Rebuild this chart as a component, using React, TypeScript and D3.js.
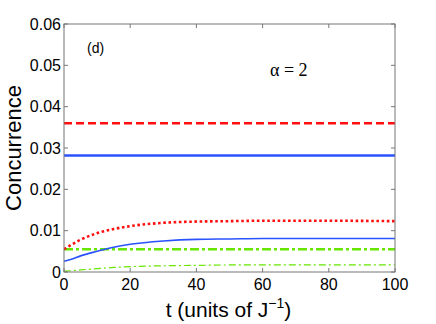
import React from 'react';
import * as d3 from 'd3';

const times = [0, 2, 5, 10, 15, 20, 30, 40, 50, 60, 80, 100];
const redDashed = [0.036, 0.036, 0.036, 0.036, 0.036, 0.036, 0.036, 0.036, 0.036, 0.036, 0.036, 0.036];
const blueThick = [0.0282, 0.0282, 0.0282, 0.0282, 0.0282, 0.0282, 0.0282, 0.0282, 0.0282, 0.0282, 0.0282, 0.0282];
const redDotted = [0.0055, 0.0065, 0.0078, 0.0094, 0.0104, 0.0111, 0.0119, 0.0122, 0.0123, 0.0124, 0.0124, 0.0123];
const blueThin = [0.0026, 0.003, 0.0039, 0.005, 0.006, 0.0067, 0.0075, 0.0079, 0.008, 0.0081, 0.0081, 0.0081];
const greenThick = [0.0055, 0.0055, 0.0055, 0.0055, 0.0055, 0.0055, 0.0055, 0.0055, 0.0055, 0.0055, 0.0055, 0.0055];
const greenThin = [0.0002, 0.0003, 0.0005, 0.0008, 0.0011, 0.0013, 0.0015, 0.0016, 0.0017, 0.0017, 0.0017, 0.0017];

const xTicks = [0, 20, 40, 60, 80, 100];
const yTicks = [0, 0.01, 0.02, 0.03, 0.04, 0.05, 0.06];

const series = [
  { values: greenThin, color: '#66e600', width: 1.2, dash: '7,3,2,3' },
  { values: greenThick, color: '#66e600', width: 2.6, dash: '9,3,3,3' },
  { values: blueThin, color: '#2a52ff', width: 1.6, dash: null },
  { values: redDotted, color: '#ff1010', width: 2.6, dash: '2.6,2.6' },
  { values: blueThick, color: '#2a52ff', width: 2.6, dash: null },
  { values: redDashed, color: '#ff1010', width: 2.6, dash: '8,4' },
];

const W = 436;
const H = 324;
const margin = { top: 24, right: 41, bottom: 52, left: 64 };

const App = () => {
  const x = d3.scaleLinear().domain([0, 100]).range([margin.left, W - margin.right]);
  const y = d3.scaleLinear().domain([0, 0.06]).range([H - margin.bottom, margin.top]);
  const [x0, x1] = x.range();
  const [y0, y1] = y.range();
  const font = 'Liberation Sans, Arial, sans-serif';

  const line = (vals: number[]) =>
    d3
      .line<number>()
      .x((_, i) => x(times[i]))
      .y(d => y(d))
      .curve(d3.curveMonotoneX)(vals) || '';

  return (
    <svg width={W} height={H} style={{ position: 'absolute', left: 0, top: 0, background: '#fff' }}>
      <defs>
        <clipPath id="plot">
          <rect x={x0} y={y1} width={x1 - x0} height={y0 - y1} />
        </clipPath>
      </defs>
      <g clipPath="url(#plot)">
        {series.map((s, i) => (
          <path
            key={i}
            d={line(s.values)}
            fill="none"
            stroke={s.color}
            strokeWidth={s.width}
            strokeDasharray={s.dash || undefined}
          />
        ))}
      </g>
      <rect x={x0} y={y1} width={x1 - x0} height={y0 - y1} fill="none" stroke="#777" strokeWidth={1} />
      {xTicks.map(t => (
        <g key={'x' + t}>
          <line x1={x(t)} x2={x(t)} y1={y0} y2={y0 - 4} stroke="#777" />
          <line x1={x(t)} x2={x(t)} y1={y1} y2={y1 + 4} stroke="#777" />
          <text x={x(t)} y={y0 + 18} textAnchor="middle" fontFamily={font} fontSize={16}>
            {t}
          </text>
        </g>
      ))}
      {yTicks.map(t => (
        <g key={'y' + t}>
          <line x1={x0} x2={x0 + 4} y1={y(t)} y2={y(t)} stroke="#777" />
          <line x1={x1} x2={x1 - 4} y1={y(t)} y2={y(t)} stroke="#777" />
          <text x={x0 - 3} y={y(t) + 5.5} textAnchor="end" fontFamily={font} fontSize={16}>
            {t === 0 ? '0' : t.toFixed(2)}
          </text>
        </g>
      ))}
      <text
        transform={`translate(21,${(y0 + y1) / 2}) rotate(-90)`}
        textAnchor="middle"
        fontFamily={font}
        fontSize={22}
      >
        Concurrence
      </text>
      <text x={(x0 + x1) / 2 - 1} y={317} textAnchor="middle" fontFamily={font} fontSize={21}>
        t (units of J<tspan dy={-9} fontSize={14}>−1</tspan>
        <tspan dy={9}>)</tspan>
      </text>
      <text x={87} y={53} fontFamily={font} fontSize={14}>
        (d)
      </text>
      <text x={270} y={76} fontFamily="'Liberation Serif', 'Times New Roman', serif" fontSize={18}>
        α = 2
      </text>
    </svg>
  );
};

export default App;
